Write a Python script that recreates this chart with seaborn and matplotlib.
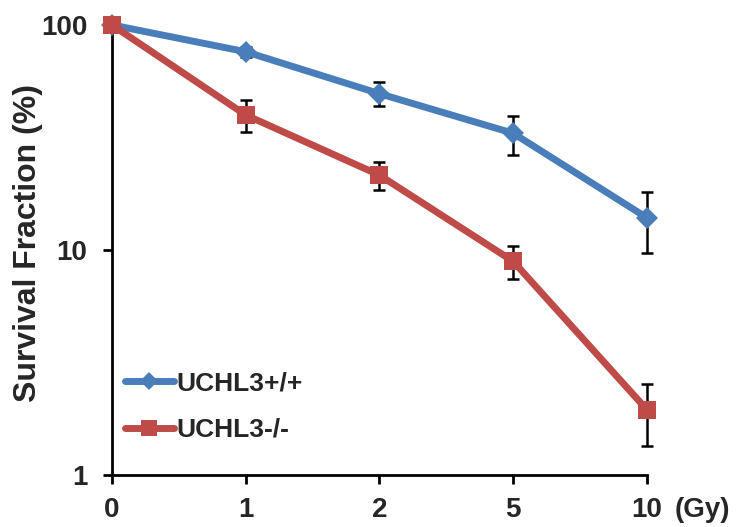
import matplotlib
matplotlib.use("Agg")
import matplotlib.pyplot as plt
import numpy as np
import pandas as pd
import seaborn as sns

doses = ["0", "1", "2", "5", "10"]
wt_surv = [100, 76, 49.5, 33, 13.9]
wt_err = [0, 4, 6, 6.5, 4.2]
ko_surv = [100, 39.8, 21.5, 8.9, 1.95]
ko_err = [0, 6.5, 3, 1.5, 0.6]
labels = ["UCHL3+/+", "UCHL3-/-"]

sns.set_style("white")
plt.rcParams['font.family'] = ['Liberation Sans', 'DejaVu Sans']
plt.rcParams['font.weight'] = 'bold'

df = pd.DataFrame({
    "dose": doses * 2,
    "surv": wt_surv + ko_surv,
    "group": [labels[0]] * len(doses) + [labels[1]] * len(doses),
})

colors = {labels[0]: "#4A7EBB", labels[1]: "#BE4B48"}

fig = plt.figure(figsize=(7.36, 5.27), dpi=100)
ax = fig.add_axes([0.152, 0.0987, 0.727, 0.854])

# error bars first so the markers sit on top
pos = np.arange(len(doses))
for surv, err in [(wt_surv, wt_err), (ko_surv, ko_err)]:
    ax.errorbar(pos, surv, yerr=err, fmt='none', ecolor='black',
                elinewidth=1.8, capsize=4, capthick=1.8, zorder=1, clip_on=False)

sns.lineplot(data=df, x="dose", y="surv", hue="group", style="group",
             palette=colors, markers={labels[0]: "D", labels[1]: "s"},
             dashes=False, linewidth=5, markersize=11, markeredgewidth=0,
             sort=False, ax=ax, zorder=3, clip_on=False)
for ln in ax.lines:
    if ln.get_marker() == "s":
        ln.set_markersize(13)

ax.set_yscale("log")
ax.set_ylim(1, 100)
ax.set_xlim(0, len(doses) - 1)
ax.set_yticks([1, 10, 100])
ax.set_yticklabels(["1", "10", "100"])
ax.yaxis.set_minor_locator(matplotlib.ticker.NullLocator())
ax.set_xticks(pos)
ax.set_xticklabels(doses)
ax.tick_params(axis='both', labelsize=20, width=2, length=6.5, direction='out',
               color='black', left=True, bottom=True)
ax.tick_params(axis='y', pad=11)
ax.tick_params(axis='x', pad=9)
for t in ax.get_xticklabels() + ax.get_yticklabels():
    t.set_fontweight('bold')

for s in ["top", "right"]:
    ax.spines[s].set_visible(False)
for s in ["left", "bottom"]:
    ax.spines[s].set_color("black")
    ax.spines[s].set_linewidth(2)

ax.set_xlabel("")
ax.set_ylabel("")
fig.text(28 / 736, 1 - 243 / 527, "Survival Fraction (%)", rotation=90,
         ha='center', va='center', fontsize=23, fontweight='bold')
ax.annotate("(Gy)", xy=(1, 0), xycoords='axes fraction', xytext=(20, -15.5),
            textcoords='offset points', ha='left', va='top',
            fontsize=20, fontweight='bold')

leg = ax.legend(loc='center left', bbox_to_anchor=(0.024, 0.152), frameon=False,
                handlelength=1.85, handletextpad=0.12, labelspacing=0.85,
                borderaxespad=0, borderpad=0, prop={'size': 19, 'weight': 'bold'})
for h in leg.legend_handles:
    h.set_linewidth(5)
    h.set_markersize(9 if h.get_marker() == "D" else 12)

fig.savefig("out.png", dpi=100)
